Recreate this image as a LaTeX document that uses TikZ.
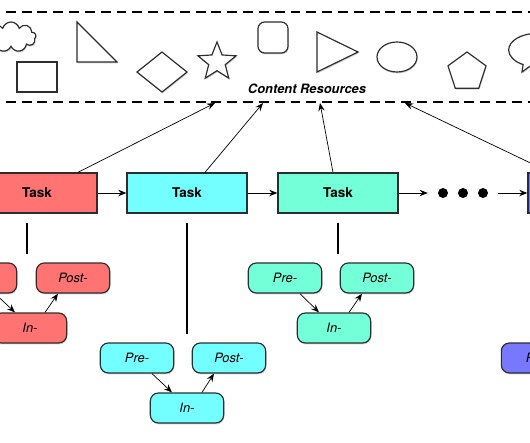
\documentclass[tikz,border=0pt]{standalone}
\usepackage{fontspec}
\setmainfont{TeX Gyre Heros}
\usetikzlibrary{arrows.meta,shadows,shapes.geometric,shapes.symbols,shapes.callouts}
\definecolor{trait}{RGB}{45,45,45}
\definecolor{rouge}{RGB}{255,115,115}
\definecolor{cyanclair}{RGB}{115,255,255}
\definecolor{vertclair}{RGB}{115,255,215}
\definecolor{bleuclair}{RGB}{120,120,255}
\begin{document}
\begin{tikzpicture}[x=0.03cm,y=-0.03cm,font=\fontsize{11}{13}\selectfont,
  ombre/.style={drop shadow={shadow xshift=0.6pt,shadow yshift=-1.2pt,opacity=0.35}},
  forme/.style={draw=trait,line width=1pt,fill=white,ombre},
  task/.style={forme,line width=1.1pt,minimum width=3.6cm,minimum height=1.2cm,font=\fontsize{11.5}{13}\selectfont\bfseries},
  phase/.style={forme,rounded corners=0.24cm,minimum width=2.2cm,minimum height=0.9cm,font=\fontsize{11}{13}\selectfont\itshape},
  fleche/.style={-{Stealth[length=7pt,width=5.5pt,inset=2.5pt]},line width=0.6pt},
  tige/.style={line width=1.4pt},
  limite/.style={dash pattern=on 8.5pt off 5pt,line width=1.8pt}]
\useasboundingbox (0,0) rectangle (530,442);
\clip (0,0) rectangle (530,442);
% ressources
\draw[limite] (-10,12) -- (540,12);
\draw[limite] (-10,102) -- (540,102);
\node[cloud,forme,cloud puffs=9,aspect=1.6,minimum width=1.5cm,minimum height=0.9cm,inner sep=0] (nuage) at (11,37) {};
\draw[forme] (17,62) rectangle (57,92);
\draw[forme] (77,22) -- (77,62) -- (117,62) -- cycle;
\draw[forme] (137,72) -- (162,52) -- (187,72) -- (162,92) -- cycle;
\node[star,star points=5,star point ratio=2.3,forme,minimum size=1.2cm,inner sep=0] (etoile) at (217,62) {};
\draw[forme,rounded corners=0.2cm] (258,22) rectangle (288,53);
\draw[forme] (317,32) -- (358,52) -- (317,72) -- cycle;
\draw[forme] (397,57) ellipse [x radius=0.6cm,y radius=0.45cm];
\node[regular polygon,regular polygon sides=5,forme,minimum size=1.2cm,inner sep=0] (penta) at (467,72) {};
\node[ellipse callout,forme,minimum width=1.7cm,minimum height=1cm,callout absolute pointer={(522,72)}] (bulle) at (537,50) {};
\node[font=\fontsize{11}{13}\selectfont\bfseries\itshape] (titre) at (307,89) {Content Resources};
\coordinate (r1) at (215,103);
\coordinate (r2) at (263,103);
\coordinate (r3) at (320,103);
\coordinate (r4) at (405,103);
% taches
\node[task,fill=rouge] (t1) at (37,193) {Task};
\node[task,fill=cyanclair] (t2) at (187,193) {Task};
\node[task,fill=vertclair] (t3) at (338,193) {Task};
\node[task,fill=bleuclair] (t4) at (588,193) {};
\foreach \i/\x in {1/443,2/463,3/483}
  \node[circle,fill=black,minimum size=0.3cm,inner sep=0] (d\i) at (\x,193) {};
\draw[fleche] (t1) -- (t2);
\draw[fleche] (t2) -- (t3);
\draw[fleche,shorten >=0.3cm] (t3) -- (d1);
\draw[fleche,shorten <=0.3cm] (d3) -- (t4);
\draw[fleche] ([xshift=1.23cm]t1.north) -- (r1);
\draw[fleche] ([xshift=0.54cm]t2.north) -- (r2);
\draw[fleche] ([xshift=-0.15cm]t3.north) -- (r3);
\draw[fleche] ([xshift=-1.14cm]t4.north) -- (r4);
% phases
\node[phase,fill=rouge] (pre1) at (-20,278) {};
\node[phase,fill=rouge] (post1) at (73,278) {Post-};
\node[phase,fill=rouge] (in1) at (30,328) {In-};
\node[phase,fill=cyanclair] (pre2) at (137,358) {Pre-};
\node[phase,fill=cyanclair] (post2) at (229,358) {Post-};
\node[phase,fill=cyanclair] (in2) at (187,408) {In-};
\node[phase,fill=vertclair] (pre3) at (285,278) {Pre-};
\node[phase,fill=vertclair] (post3) at (377,278) {Post-};
\node[phase,fill=vertclair] (in3) at (334,328) {In-};
\node[phase,fill=bleuclair] (pre4) at (538,358) {Pre-};
\draw[tige] ([xshift=-0.3cm,yshift=-0.27cm]t1.south) -- ++(0,31);
\draw[tige] ([yshift=-0.27cm]t2.south) -- ++(0,111);
\draw[tige] ([yshift=-0.27cm]t3.south) -- ++(0,31);
\foreach \g in {1,2,3} {
  \draw[fleche] ([xshift=0.45cm]pre\g.south) -- ([xshift=-0.45cm]in\g.north);
  \draw[fleche] ([xshift=0.45cm]in\g.north) -- ([xshift=-0.45cm]post\g.south);
}
\end{tikzpicture}
\end{document}
